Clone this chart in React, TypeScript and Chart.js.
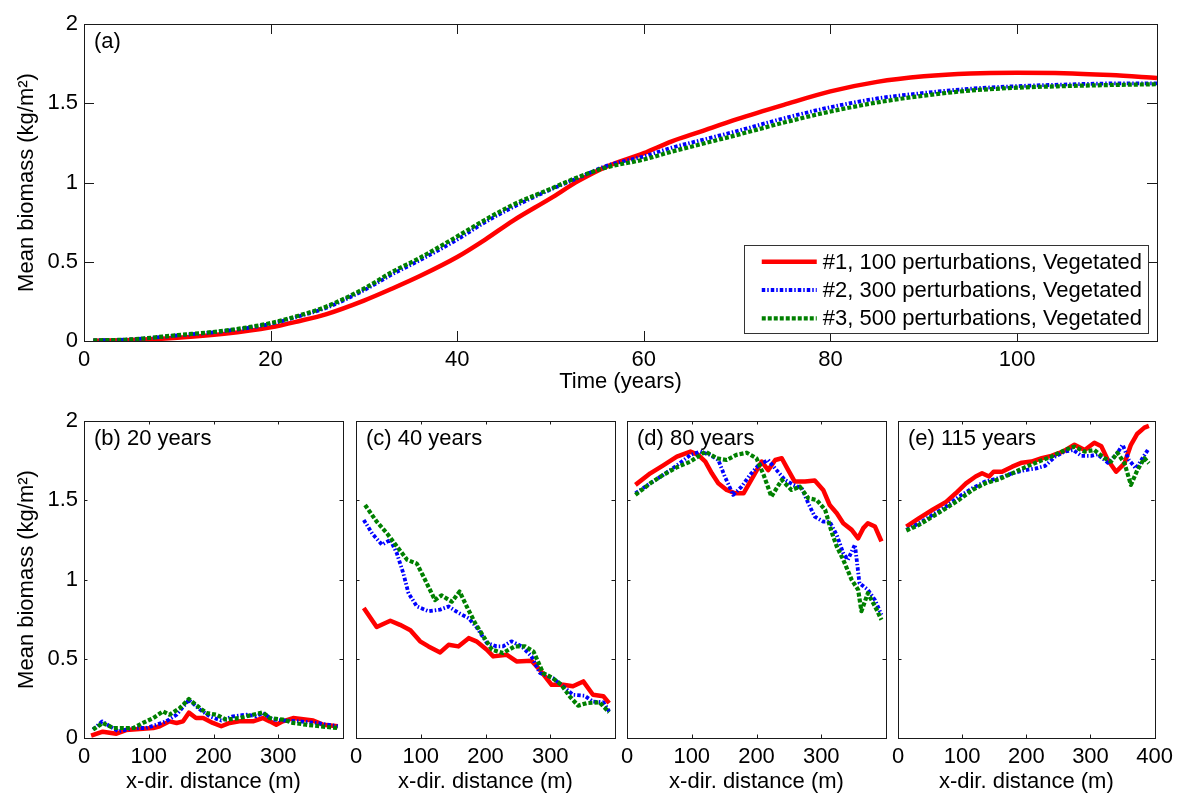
import React, { useEffect, useRef } from 'react';
import { Chart, registerables } from 'chart.js';

Chart.register(...registerables);

const FONT = '"Liberation Sans", Arial, Helvetica, sans-serif';
const PAGE_W = 1179;
const PAGE_H = 794;

type Pt = [number, number];

// ---------- legend / series names ----------
const seriesLabels = [
  '#1, 100 perturbations, Vegetated',
  '#2, 300 perturbations, Vegetated',
  '#3, 500 perturbations, Vegetated',
];

// ---------- (a) mean biomass vs time ----------
const years = [1, 5, 10, 15, 20, 23, 26, 30, 33, 36, 40, 43, 46, 50, 53, 56, 60, 63, 66, 70, 75, 80, 85, 90, 95, 100, 105, 110, 115];
const timeRed = [0.002, 0.006, 0.02, 0.045, 0.086, 0.125, 0.17, 0.255, 0.33, 0.41, 0.53, 0.64, 0.76, 0.9, 1.01, 1.1, 1.185, 1.26, 1.32, 1.4, 1.49, 1.575, 1.635, 1.67, 1.688, 1.692, 1.69, 1.678, 1.66];
const timeBlue = [0.004, 0.01, 0.035, 0.062, 0.108, 0.155, 0.21, 0.32, 0.42, 0.51, 0.64, 0.75, 0.845, 0.955, 1.03, 1.105, 1.165, 1.22, 1.265, 1.325, 1.405, 1.475, 1.53, 1.565, 1.592, 1.608, 1.618, 1.625, 1.626];
const timeGreen = [0.004, 0.01, 0.037, 0.065, 0.113, 0.16, 0.218, 0.33, 0.435, 0.525, 0.66, 0.765, 0.86, 0.96, 1.035, 1.095, 1.145, 1.195, 1.24, 1.3, 1.378, 1.448, 1.505, 1.548, 1.58, 1.598, 1.608, 1.615, 1.62];

// ---------- (b) 20 years ----------
const b20Red: Pt[] = [[11, 0.015], [29, 0.04], [50, 0.027], [65, 0.05], [86, 0.057], [107, 0.063], [117, 0.074], [132, 0.105], [143, 0.095], [153, 0.105], [162, 0.16], [173, 0.126], [184, 0.126], [199, 0.095], [212, 0.074], [225, 0.095], [240, 0.105], [261, 0.105], [276, 0.126], [287, 0.105], [297, 0.084], [307, 0.105], [323, 0.126], [354, 0.11], [369, 0.084], [392, 0.074]];
const b20Blue: Pt[] = [[14, 0.053], [28, 0.105], [40, 0.074], [53, 0.042], [76, 0.063], [96, 0.063], [112, 0.084], [127, 0.105], [143, 0.147], [162, 0.24], [179, 0.18], [194, 0.137], [212, 0.11], [230, 0.137], [251, 0.147], [266, 0.137], [276, 0.158], [292, 0.116], [312, 0.11], [333, 0.105], [359, 0.095], [392, 0.074]];
const b20Green: Pt[] = [[14, 0.053], [29, 0.095], [45, 0.063], [60, 0.063], [76, 0.063], [91, 0.095], [107, 0.126], [122, 0.168], [132, 0.147], [148, 0.189], [162, 0.246], [179, 0.189], [189, 0.158], [204, 0.147], [220, 0.116], [240, 0.126], [261, 0.147], [276, 0.162], [287, 0.126], [307, 0.116], [323, 0.095], [343, 0.084], [364, 0.074], [392, 0.063]];

// ---------- (c) 40 years ----------
const c40Red: Pt[] = [[12, 0.82], [32, 0.7], [53, 0.74], [68, 0.714], [84, 0.68], [99, 0.61], [112, 0.578], [130, 0.54], [143, 0.588], [158, 0.578], [174, 0.63], [186, 0.61], [202, 0.557], [212, 0.515], [233, 0.525], [248, 0.483], [271, 0.487], [284, 0.43], [302, 0.336], [320, 0.336], [335, 0.326], [351, 0.357], [366, 0.273], [382, 0.263], [391, 0.22]];
const c40Blue: Pt[] = [[12, 1.376], [25, 1.29], [40, 1.22], [53, 1.25], [63, 1.166], [73, 1.04], [81, 0.914], [94, 0.83], [112, 0.8], [130, 0.81], [143, 0.83], [158, 0.79], [174, 0.756], [186, 0.7], [202, 0.6], [217, 0.578], [227, 0.578], [240, 0.61], [256, 0.578], [271, 0.515], [284, 0.41], [304, 0.378], [320, 0.326], [335, 0.273], [353, 0.267], [366, 0.23], [382, 0.225], [391, 0.168]];
const c40Green: Pt[] = [[14, 1.47], [32, 1.365], [48, 1.29], [63, 1.21], [79, 1.124], [94, 1.1], [104, 1.02], [122, 0.87], [132, 0.9], [148, 0.86], [160, 0.924], [171, 0.83], [184, 0.725], [197, 0.64], [210, 0.557], [227, 0.536], [245, 0.578], [261, 0.578], [274, 0.546], [289, 0.41], [304, 0.378], [317, 0.336], [330, 0.263], [343, 0.204], [356, 0.22], [376, 0.225], [391, 0.162]];

// ---------- (d) 80 years ----------
const d80Red: Pt[] = [[13, 1.597], [36, 1.67], [56, 1.72], [77, 1.775], [98, 1.807], [110, 1.786], [121, 1.744], [131, 1.67], [141, 1.607], [154, 1.565], [167, 1.544], [180, 1.544], [195, 1.65], [208, 1.744], [218, 1.69], [229, 1.754], [239, 1.765], [249, 1.69], [259, 1.618], [275, 1.618], [290, 1.624], [303, 1.565], [313, 1.47], [324, 1.418], [334, 1.355], [347, 1.313], [357, 1.26], [365, 1.324], [372, 1.355], [383, 1.334], [393, 1.24]];
const d80Blue: Pt[] = [[13, 1.544], [36, 1.607], [56, 1.66], [77, 1.72], [98, 1.786], [113, 1.807], [128, 1.786], [141, 1.754], [151, 1.65], [164, 1.534], [177, 1.586], [190, 1.66], [203, 1.72], [218, 1.754], [231, 1.69], [244, 1.628], [257, 1.597], [270, 1.576], [280, 1.48], [290, 1.397], [303, 1.365], [313, 1.365], [324, 1.28], [334, 1.166], [341, 1.124], [352, 1.22], [359, 0.977], [372, 0.935], [383, 0.87], [393, 0.777]];
const d80Green: Pt[] = [[13, 1.534], [36, 1.607], [56, 1.66], [77, 1.708], [98, 1.744], [121, 1.807], [139, 1.765], [154, 1.754], [169, 1.786], [185, 1.8], [200, 1.765], [211, 1.66], [223, 1.523], [239, 1.628], [254, 1.565], [267, 1.586], [280, 1.513], [293, 1.502], [306, 1.44], [316, 1.3], [324, 1.208], [334, 1.124], [347, 0.998], [357, 0.935], [362, 0.8], [372, 0.914], [383, 0.83], [393, 0.746]];

// ---------- (e) 115 years ----------
const e115Red: Pt[] = [[13, 1.334], [33, 1.387], [54, 1.44], [75, 1.49], [90, 1.544], [106, 1.607], [121, 1.65], [131, 1.67], [142, 1.65], [149, 1.68], [162, 1.68], [178, 1.712], [193, 1.737], [208, 1.744], [224, 1.765], [239, 1.78], [257, 1.807], [275, 1.85], [291, 1.817], [306, 1.863], [317, 1.84], [327, 1.754], [340, 1.68], [353, 1.733], [363, 1.85], [373, 1.92], [384, 1.958], [391, 1.969]];
const e115Blue: Pt[] = [[13, 1.313], [33, 1.355], [54, 1.408], [75, 1.46], [95, 1.523], [116, 1.576], [136, 1.618], [157, 1.64], [178, 1.67], [198, 1.69], [214, 1.7], [229, 1.716], [245, 1.775], [260, 1.807], [273, 1.817], [286, 1.78], [301, 1.78], [311, 1.79], [327, 1.737], [340, 1.786], [350, 1.85], [360, 1.754], [371, 1.7], [381, 1.765], [391, 1.828]];
const e115Green: Pt[] = [[13, 1.309], [33, 1.345], [54, 1.397], [75, 1.45], [95, 1.502], [116, 1.565], [136, 1.607], [157, 1.632], [178, 1.67], [198, 1.708], [219, 1.744], [239, 1.775], [260, 1.817], [275, 1.838], [291, 1.807], [306, 1.817], [322, 1.765], [332, 1.744], [342, 1.8], [353, 1.733], [363, 1.597], [373, 1.69], [384, 1.765], [391, 1.733]];

// ---------- axis texts ----------
const yTitle = 'Mean biomass (kg/m²)';
const timeTitle = 'Time (years)';
const distTitle = 'x-dir. distance (m)';

const seriesStyles = [
  { color: '#ff0000', width: 4.5, dash: [] as number[] },
  { color: '#0000ff', width: 3.8, dash: [3.5, 2, 1.5, 2] },
  { color: '#008000', width: 4.2, dash: [4, 2] },
];

interface Spec {
  id: string;
  label: string;
  area: { l: number; t: number; r: number; b: number };
  xMax: number;
  xStep: number;
  showLastX: boolean;
  showY: boolean;
  tickLen: number;
  xTitle: string;
  xAxisH: number;
  xTitlePad: number;
  legend: boolean;
  smooth: boolean;
  series: Pt[][];
}

const zip = (xs: number[], ys: number[]): Pt[] => xs.map((x, i) => [x, ys[i]]);

const specs: Spec[] = [
  {
    id: 'a', label: '(a)', area: { l: 84, t: 24, r: 1157, b: 341 },
    xMax: 115, xStep: 20, showLastX: false, showY: true, tickLen: 10,
    xTitle: timeTitle, xAxisH: 53, xTitlePad: 1.3, legend: true, smooth: true,
    series: [zip(years, timeRed), zip(years, timeBlue), zip(years, timeGreen)],
  },
  {
    id: 'b', label: '(b) 20 years', area: { l: 84, t: 421, r: 343, b: 738 },
    xMax: 400, xStep: 100, showLastX: false, showY: true, tickLen: 3.5,
    xTitle: distTitle, xAxisH: 56, xTitlePad: 1, legend: false, smooth: false,
    series: [b20Red, b20Blue, b20Green],
  },
  {
    id: 'c', label: '(c) 40 years', area: { l: 356, t: 421, r: 615, b: 738 },
    xMax: 400, xStep: 100, showLastX: false, showY: false, tickLen: 3.5,
    xTitle: distTitle, xAxisH: 56, xTitlePad: 1, legend: false, smooth: false,
    series: [c40Red, c40Blue, c40Green],
  },
  {
    id: 'd', label: '(d) 80 years', area: { l: 627, t: 421, r: 886, b: 738 },
    xMax: 400, xStep: 100, showLastX: false, showY: false, tickLen: 3.5,
    xTitle: distTitle, xAxisH: 56, xTitlePad: 1, legend: false, smooth: false,
    series: [d80Red, d80Blue, d80Green],
  },
  {
    id: 'e', label: '(e) 115 years', area: { l: 898, t: 421, r: 1157, b: 738 },
    xMax: 400, xStep: 100, showLastX: true, showY: false, tickLen: 3.5,
    xTitle: distTitle, xAxisH: 56, xTitlePad: 1, legend: false, smooth: false,
    series: [e115Red, e115Blue, e115Green],
  },
];

function makeFramePlugin(spec: Spec) {
  return {
    id: 'frame' + spec.id,
    afterDatasetsDraw(chart: any) {
      const { ctx, chartArea: a, scales } = chart;
      const tl = spec.tickLen;
      ctx.save();
      ctx.strokeStyle = '#1a1a1a';
      ctx.lineWidth = 1;
      ctx.setLineDash([]);
      ctx.beginPath();
      for (const t of scales.x.ticks) {
        const px = Math.round(scales.x.getPixelForValue(t.value)) + 0.5;
        ctx.moveTo(px, a.bottom);
        ctx.lineTo(px, a.bottom - tl);
        ctx.moveTo(px, a.top);
        ctx.lineTo(px, a.top + tl);
      }
      for (const t of scales.y.ticks) {
        const py = Math.round(scales.y.getPixelForValue(t.value)) + 0.5;
        ctx.moveTo(a.left, py);
        ctx.lineTo(a.left + tl, py);
        ctx.moveTo(a.right, py);
        ctx.lineTo(a.right - tl, py);
      }
      ctx.stroke();
      ctx.strokeRect(Math.round(a.left) + 0.5, Math.round(a.top) + 0.5, Math.round(a.right - a.left), Math.round(a.bottom - a.top));

      ctx.fillStyle = '#000';
      ctx.font = `22px ${FONT}`;
      ctx.textAlign = 'left';
      ctx.textBaseline = 'alphabetic';
      ctx.fillText(spec.label, a.left + 10, a.top + 24);

      if (spec.legend) {
        ctx.font = `22px ${FONT}`;
        const tw = Math.max(...seriesLabels.map((s) => ctx.measureText(s).width));
        const boxW = Math.max(404, 12 + 55 + 6 + tw + 6);
        const boxH = 88;
        const boxR = Math.round(a.right - 9);
        const boxB = Math.round(a.bottom - 8.5);
        const boxL = Math.round(boxR - boxW);
        const boxT = boxB - boxH;
        const lineL = boxR - 6 - tw - 6 - 55;
        ctx.fillStyle = '#fff';
        ctx.fillRect(boxL, boxT, boxR - boxL, boxH);
        ctx.strokeStyle = '#333';
        ctx.lineWidth = 1;
        ctx.strokeRect(boxL + 0.5, boxT + 0.5, boxR - boxL, boxH);
        seriesLabels.forEach((lab, i) => {
          const st = seriesStyles[i];
          const y = boxT + 16.7 + i * 28.3;
          ctx.beginPath();
          ctx.strokeStyle = st.color;
          ctx.lineWidth = st.width;
          ctx.lineCap = 'butt';
          ctx.setLineDash(st.dash);
          ctx.moveTo(lineL, y);
          ctx.lineTo(lineL + 55, y);
          ctx.stroke();
          ctx.setLineDash([]);
          ctx.fillStyle = '#000';
          ctx.textBaseline = 'middle';
          ctx.fillText(lab, lineL + 61, y + 1);
        });
      }
      ctx.restore();
    },
  };
}

function buildConfig(spec: Spec): any {
  const yW = spec.showY ? 84 : 0;
  const tickFont = { family: FONT, size: 22 };
  const titleFont = { family: FONT, size: 22, lineHeight: 1 };
  const datasets = spec.series.map((pts, i) => ({
    label: seriesLabels[i],
    data: pts.map(([x, y]) => ({ x, y })),
    borderColor: seriesStyles[i].color,
    backgroundColor: seriesStyles[i].color,
    borderWidth: seriesStyles[i].width,
    borderDash: seriesStyles[i].dash,
    borderCapStyle: 'butt',
    borderJoinStyle: 'round',
    pointRadius: 0,
    pointHoverRadius: 0,
    fill: false,
    tension: 0,
    cubicInterpolationMode: spec.smooth ? 'monotone' : 'default',
    order: 3 - i,
  }));
  return {
    type: 'line',
    data: { datasets },
    plugins: [makeFramePlugin(spec)],
    options: {
      animation: false,
      responsive: false,
      maintainAspectRatio: false,
      events: [],
      layout: {
        padding: {
          left: spec.area.l - yW,
          top: spec.area.t,
          right: PAGE_W - spec.area.r,
          bottom: PAGE_H - (spec.area.b + spec.xAxisH),
        },
      },
      plugins: {
        legend: { display: false },
        tooltip: { enabled: false },
        title: { display: false },
      },
      scales: {
        x: {
          type: 'linear',
          position: 'bottom',
          min: 0,
          max: spec.xMax,
          ticks: {
            stepSize: spec.xStep,
            includeBounds: false,
            autoSkip: false,
            maxRotation: 0,
            minRotation: 0,
            padding: 6,
            color: '#000',
            font: tickFont,
            callback: (v: number) => (!spec.showLastX && v === spec.xMax ? '' : String(v)),
          },
          grid: { display: false, drawTicks: false },
          border: { display: false },
          title: {
            display: true,
            text: spec.xTitle,
            color: '#000',
            font: titleFont,
            padding: { top: 0, bottom: spec.xTitlePad },
          },
          afterFit: (s: any) => {
            s.height = spec.xAxisH;
          },
        },
        y: {
          type: 'linear',
          position: 'left',
          min: 0,
          max: 2,
          ticks: {
            display: spec.showY,
            stepSize: 0.5,
            includeBounds: false,
            autoSkip: false,
            padding: 6,
            color: '#000',
            font: tickFont,
            callback: (v: number) => String(v),
          },
          grid: { display: false, drawTicks: false },
          border: { display: false },
          title: {
            display: spec.showY,
            text: yTitle,
            color: '#000',
            font: titleFont,
            padding: { top: 15.5, bottom: 0 },
          },
          afterFit: (s: any) => {
            s.width = yW;
          },
        },
      },
    },
  };
}

function Panel({ spec }: { spec: Spec }) {
  const ref = useRef<HTMLCanvasElement>(null);
  useEffect(() => {
    if (!ref.current) return;
    const chart = new Chart(ref.current, buildConfig(spec));
    return () => chart.destroy();
  }, [spec]);
  return (
    <canvas
      ref={ref}
      width={PAGE_W}
      height={PAGE_H}
      style={{ position: 'absolute', left: 0, top: 0, width: PAGE_W, height: PAGE_H }}
    />
  );
}

export default function App() {
  return (
    <div
      style={{
        position: 'absolute',
        left: 0,
        top: 0,
        width: PAGE_W,
        height: PAGE_H,
        background: '#fff',
        overflow: 'hidden',
      }}
    >
      {specs.map((s) => (
        <Panel key={s.id} spec={s} />
      ))}
    </div>
  );
}
